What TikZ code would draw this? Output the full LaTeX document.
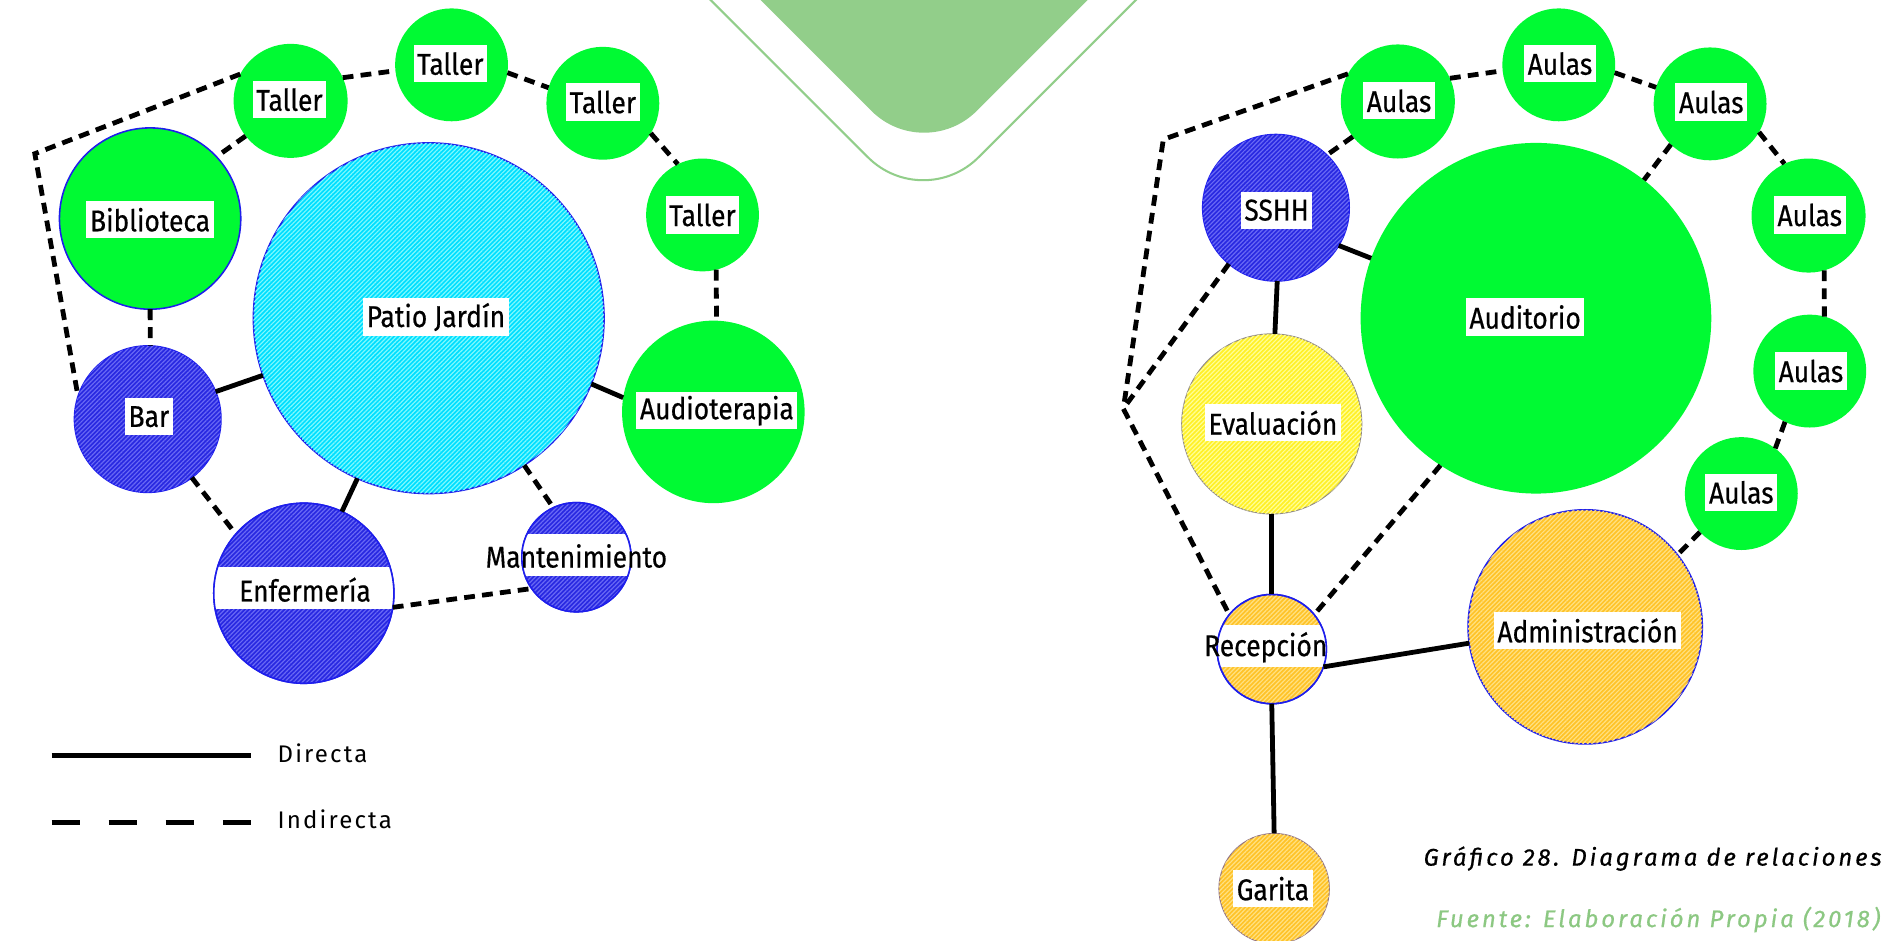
\documentclass[tikz,border=0pt]{standalone}
\usepackage{fontspec}
\setmainfont{Fira Sans}[FakeStretch=0.88, FakeBold=0.5]
\newfontfamily\capfont{Fira Sans}[LetterSpace=12, FakeBold=0.6]
\newfontfamily\legfont{Fira Sans}[LetterSpace=9]
\usetikzlibrary{patterns.meta}
\definecolor{grn}{RGB}{0,250,51}
\definecolor{blu}{RGB}{40,40,225}
\definecolor{bluh}{RGB}{105,105,245}
\definecolor{bdr}{RGB}{30,30,235}
\definecolor{cyn}{RGB}{0,222,255}
\definecolor{cynh}{RGB}{125,250,255}
\definecolor{ylw}{RGB}{255,240,40}
\definecolor{ylwh}{RGB}{255,255,150}
\definecolor{org}{RGB}{255,195,40}
\definecolor{orgh}{RGB}{255,225,130}
\definecolor{lgr}{RGB}{146,206,138}
\definecolor{fgr}{RGB}{140,200,130}
\newcommand\lblfont{\fontsize{25}{27}\selectfont}
\tikzset{
  circ/.style={circle, inner sep=0pt, outer sep=0pt},
  hatch/.style={postaction={pattern={Lines[angle=45,distance=2.6pt,line width=1pt]}, pattern color=#1}},
  gc/.style={circ, fill=grn},
  bc/.style={circ, fill=blu, draw=bdr, line width=1.3pt, hatch=bluh},
  cc/.style={circ, fill=cyn, draw=bdr, line width=1.3pt, hatch=cynh},
  yc/.style={circ, fill=ylw, draw=bdr!50!ylw, line width=0.8pt, hatch=ylwh},
  oc/.style={circ, fill=org, draw=bdr, line width=1.3pt, hatch=orgh},
  lbl/.style={fill=white, inner xsep=3pt, inner ysep=0pt, minimum height=31pt, font=\lblfont},
  txt/.style={inner sep=0pt, font=\lblfont},
  dline/.style={line width=4pt, black},
  iline/.style={line width=4pt, black, dash pattern=on 9pt off 6pt},
  bordr/.style={draw=bdr, line width=1.3pt},
}
\begin{document}
\begin{tikzpicture}[x=1pt, y=-1pt]
\useasboundingbox (0,0) rectangle (1568,783);
\clip (0,0) rectangle (1568,783);
\fill[white] (0,0) rectangle (1568,783);

% top decoration
\fill[lgr, rounded corners=62pt] (469.5,-164) -- (769.5,136.2) -- (1069.5,-164) -- cycle;
\draw[lgr, line width=1.7pt, rounded corners=65pt] (491.7,-100) -- (768.8,177) -- (1045.8,-100);

% ---------------- left group ----------------
\node[cc, minimum size=292pt] (pat) at (357,265) {};
\node[gc, draw=bdr, line width=1.3pt, minimum size=151pt] (bib) at (125,182) {};
\node[gc, minimum size=95pt] (t1) at (242,84) {};
\node[gc, minimum size=94pt] (t2) at (376,54) {};
\node[gc, minimum size=94pt] (t3) at (502,86) {};
\node[gc, minimum size=94pt] (t4) at (585,179) {};
\node[gc, minimum size=152pt] (aud) at (594,343) {};
\node[bc, minimum size=122pt] (bar) at (123,349) {};
\node[bc, minimum size=150pt] (enf) at (253,494) {};
\node[bc, minimum size=91pt] (man) at (480,464) {};

\begin{scope}
  \clip (enf.center) circle[radius=75];
  \fill[white] (150,472.3) rectangle (360,507);
\end{scope}
\draw[bordr] (enf.center) circle[radius=75];
\begin{scope}
  \clip (man.center) circle[radius=45.5];
  \fill[white] (420,444.5) rectangle (540,480);
\end{scope}
\draw[bordr] (man.center) circle[radius=45.5];

% labels
\node[lbl] (lt1) at (241,83) {Taller};
\node[lbl] (lt2) at (375,53) {Taller};
\node[lbl] (lt3) at (502,85) {Taller};
\node[lbl] (lt4) at (585,179) {Taller};
\node[lbl] (lbib) at (125,183) {Biblioteca};
\node[lbl] (lpat) at (363,264) {Patio Jardín};
\node[lbl] (lbar) at (124,347) {Bar};
\node[lbl] (laud) at (597,342) {Audioterapia};
\node[txt] (lenf) at (254,491) {Enfermería};
\node[txt] (lman) at (480,463) {Mantenimiento};

% connectors
\coordinate (c1) at (29,128);
\draw[iline] (t1.152) -- (c1) -- (bar.162);
\draw[iline] (t1.218) -- (bib.43);
\draw[iline] (t1.24) -- (t2.186);
\draw[iline] (t2.352) -- (t3.164);
\draw[iline] (t3.328) -- (t4.116);
\draw[iline] (t4.284) -- (aud.88);
\draw[iline] (bib.270) -- (bar.88);
\draw[dline] (bar.22) -- (pat.199);
\draw[dline] (pat.246) -- (enf.65);
\draw[dline] (pat.338) -- (aud.171);
\draw[iline] (pat.303) -- (man.115);
\draw[iline] (bar.307) -- (enf.139);
\draw[iline] (enf.351) -- (man.215);

% ---------------- right group ----------------
\node[gc, minimum size=95pt] (a1) at (1164,84.5) {};
\node[gc, minimum size=94pt] (a2) at (1298,54) {};
\node[gc, minimum size=94pt] (a3) at (1424,86.5) {};
\node[gc, minimum size=95pt] (a4) at (1506,179.5) {};
\node[gc, minimum size=94pt] (a5) at (1507,309) {};
\node[gc, minimum size=94pt] (a6) at (1450,411) {};
\node[bc, minimum size=122pt] (ssh) at (1062.5,173) {};
\node[gc, minimum size=292pt] (aut) at (1279,265) {};
\node[yc, minimum size=150pt] (eva) at (1059,353) {};
\node[oc, minimum size=91pt] (rec) at (1059,540.5) {};
\node[oc, minimum size=195pt] (adm) at (1320,522) {};
\node[oc, draw=bdr!50!org, line width=0.8pt, minimum size=92pt] (gar) at (1061,740) {};

\begin{scope}
  \clip (rec.center) circle[radius=45.5];
  \fill[white] (1000,520.8) rectangle (1120,555.6);
\end{scope}
\draw[bordr] (rec.center) circle[radius=45.5];

\node[lbl] (la1) at (1165,84) {Aulas};
\node[lbl] (la2) at (1299,53) {Aulas};
\node[lbl] (la3) at (1425,85) {Aulas};
\node[lbl] (la4) at (1507,179) {Aulas};
\node[lbl] (la5) at (1508,309) {Aulas};
\node[lbl] (la6) at (1450,410) {Aulas};
\node[lbl] (lssh) at (1063,175) {SSHH};
\node[lbl] (laut) at (1270,264) {Auditorio};
\node[lbl] (leva) at (1060,352) {Evaluación};
\node[lbl] (ladm) at (1322,525) {Administración};
\node[lbl] (lgar) at (1060,740) {Garita};
\node[txt] (lrec) at (1054,539) {Recepción};

\coordinate (c2) at (968.7,116.1);
\coordinate (c3) at (935.4,340.3);
\draw[iline] (a1.151) -- (c2) -- (c3) -- (rec.141);
\draw[iline] (ssh.230) -- (c3);
\draw[iline] (a1.218) -- (ssh.46);
\draw[iline] (a1.24) -- (a2.186);
\draw[iline] (a2.352) -- (a3.163);
\draw[iline] (a3.226) -- (aut.52);
\draw[iline] (a3.330) -- (a4.115);
\draw[iline] (a4.286) -- (a5.75);
\draw[iline] (a5.244) -- (a6.53);
\draw[iline] (a6.223) -- (adm.38);
\draw[dline] (ssh.329) -- (aut.160);
\draw[dline] (ssh.271) -- (eva.88);
\draw[dline] (eva.270) -- (rec.90);
\draw[dline] (rec.341) -- (adm.188);
\draw[dline] (rec.270) -- (gar.90);
\draw[iline] (aut.237) -- (rec.39);

% ---------------- legend ----------------
\coordinate (da) at (43,629);
\coordinate (db) at (209,629);
\coordinate (ia) at (43,685);
\coordinate (ib) at (209,685);
\draw[line width=4.5pt] (da) -- (db);
\draw[line width=4.5pt, dash pattern=on 23.7pt off 23.8pt] (ia) -- (ib);
\node[anchor=base west, inner sep=0pt, font={\fontsize{20}{24}\legfont}] (tdir) at (231,634.7) {Directa};
\node[anchor=base west, inner sep=0pt, font={\fontsize{20}{24}\legfont}] (tind) at (231,690.3) {Indirecta};

% ---------------- caption ----------------
\node[anchor=base east, inner sep=0pt, font={\fontsize{20}{24}\capfont\itshape}] (cap1) at (1567,720.8) {Gráfico 28. Diagrama de relaciones};
\node[anchor=base east, inner sep=0pt, text=fgr, font={\fontsize{20}{24}\capfont\itshape}] (cap2) at (1566,772) {Fuente: Elaboración Propia (2018)};
\end{tikzpicture}
\end{document}
